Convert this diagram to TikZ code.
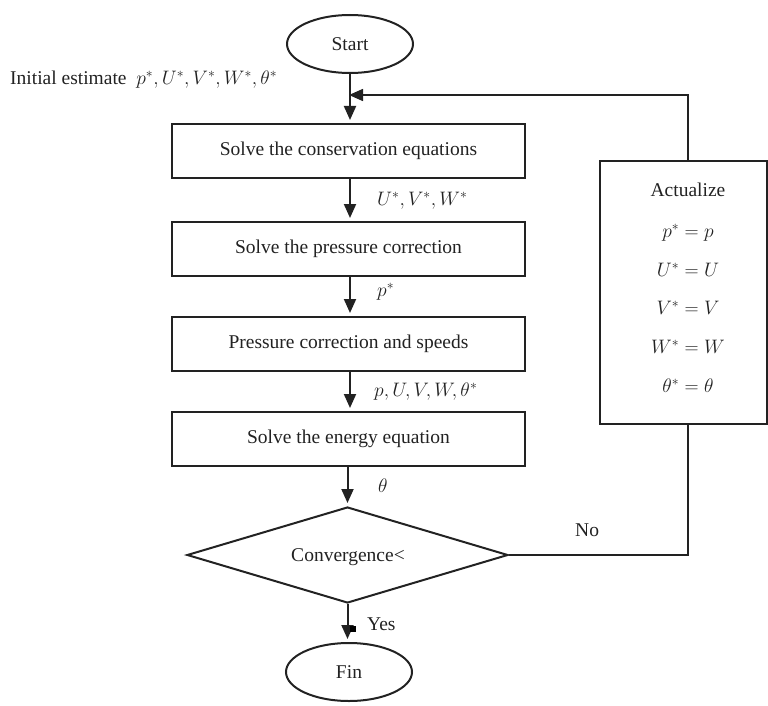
\documentclass[tikz,border=0pt]{standalone}
\usepackage{fix-cm}
\usepackage{fontspec}
\setmainfont{Liberation Serif}
\usetikzlibrary{shapes.geometric,arrows.meta}
\definecolor{ink}{HTML}{222222}
\newcommand{\fs}{\fontsize{19.5}{23}\selectfont}
\begin{document}
\begin{tikzpicture}[x=1pt,y=-1pt,
  box/.style={draw=ink, line width=2pt, minimum width=353pt, minimum height=54pt, inner sep=0pt, font=\fs, text=ink},
  term/.style={ellipse, draw=ink, line width=2pt, minimum width=126pt, minimum height=58pt, inner sep=0pt, font=\fs, text=ink},
  dec/.style={diamond, draw=ink, line width=2pt, minimum width=321pt, minimum height=96pt, inner sep=0pt, font=\fs, text=ink},
  flow/.style={line width=2pt, draw=ink, -{Triangle[length=14pt,width=12pt]}, shorten >=3pt},
  fb/.style={line width=1.1pt, draw=ink},
  fbarrow/.style={line width=1.6pt, draw=ink, -{Triangle[length=14pt,width=12pt]}},
  lbl/.style={inner sep=0pt, font=\fs, text=ink}]
\useasboundingbox (0,0) rectangle (768,706);

% main column
\node[term] (start) at (350,44) {Start};
\node[box] (b1) at (348.5,151) {Solve the conservation equations};
\node[box] (b2) at (348.5,249) {Solve the pressure correction};
\node[box] (b3) at (348.5,344) {Pressure correction and speeds};
\node[box] (b4) at (348.5,439) {Solve the energy equation};
\node[dec] (dia) at (347.5,555) {};
\node[lbl] (conv) at (348,557) {Convergence<};
\node[term] (fin) at (349,672) {Fin};

% actualize box
\node[draw=ink, line width=2pt, minimum width=167pt, minimum height=263pt, inner sep=0pt] (act) at (683.5,292.5) {};
\node[lbl] (a0) at (688,190) {Actualize};
\node[lbl] (a1) at (688,233) {$p^* = p$};
\node[lbl] (a2) at (688,270) {$U^* = U$};
\node[lbl] (a3) at (688,308) {$V^* = V$};
\node[lbl] (a4) at (688,347) {$W^* = W$};
\node[lbl] (a5) at (688,386) {$\theta^* = \theta$};

% labels
\node[lbl, anchor=west] (init) at (10,80) {Initial estimate~ $p^*,U^*,V^*,W^*,\theta^*$};
\node[lbl, anchor=west] (l1) at (377,201) {$U^*,V^*,W^*$};
\node[lbl, anchor=west] (l2) at (377,292) {$p^*$};
\node[lbl, anchor=west] (l3) at (374,392) {$p,U,V,W,\theta^*$};
\node[lbl, anchor=west] (l4) at (378,486) {$\theta$};
\node[lbl, anchor=west] (yes) at (367,624) {Yes};
\node[lbl, anchor=west] (no) at (575,530) {No};

% connectors
\coordinate (join) at (349,95);
\coordinate (fbx) at (688,95);
\draw[flow] (start.south) -- (b1.north -| start.south);
\draw[flow] (b1.south -| start.south) -- (b2.north -| start.south);
\draw[flow] (b2.south -| start.south) -- (b3.north -| start.south);
\draw[flow] (b3.south -| start.south) -- (b4.north -| start.south);
\draw[flow] (b4.south -| dia.north) -- (dia.north);
\draw[flow] (dia.south) -- (fin.north -| dia.south);
\draw[fb] (dia.east) -| (fbx |- act.south);
\draw[fb] (fbx |- act.north) -- (fbx) -- ([xshift=14pt]join);
\draw[fbarrow] ([xshift=15pt]join) -- (join);
\fill[black] (349.5,626) rectangle (355.5,632);
\end{tikzpicture}
\end{document}
